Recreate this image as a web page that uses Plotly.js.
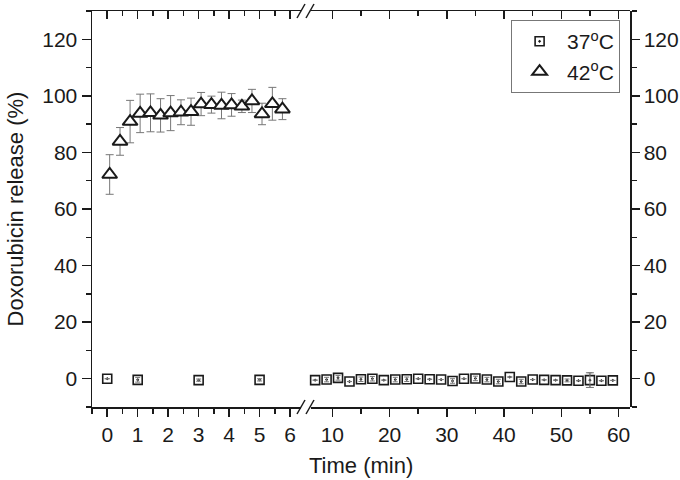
<!DOCTYPE html>
<html>
<head>
<meta charset="utf-8">
<script src="https://cdn.plot.ly/plotly-3.0.1.min.js"></script>
<style>html,body{margin:0;padding:0;background:#fff}#chart{width:680px;height:480px}</style>
</head>
<body>
<div id="chart"></div>
<script>
// ---- data ----
const seriesNames = ['37<sup>o</sup>C', '42<sup>o</sup>C'];

// 37 °C, first minutes (left axis segment)
const time37a = [0, 1, 3, 5];
const rel37a  = [0.0, -0.4, -0.5, -0.4];
const err37a  = [0, 0.8, 0.4, 0.4];

// 37 °C, later minutes (right axis segment)
const time37b = [7, 9, 11, 13, 15, 17, 19, 21, 23, 25, 27, 29, 31, 33, 35, 37, 39, 41, 43, 45, 47, 49, 51, 53, 55, 57, 59];
const rel37b  = [-0.5, -0.3, 0.3, -1.0, -0.2, 0.0, -0.5, -0.3, -0.2, 0.0, -0.2, -0.3, -0.8, 0.0, 0.1, -0.3, -1.0, 0.6, -1.0, -0.3, -0.4, -0.5, -0.6, -0.7, -0.5, -0.7, -0.6];
const err37b  = [0, 0.8, 0.8, 0, 0.8, 0.8, 0, 0.8, 0.8, 0, 0, 0, 0.8, 0, 0.8, 0.8, 0.8, 0, 0.8, 0, 0, 0, 0.5, 0, 2.6, 0, 0];

// 42 °C (left axis segment)
const time42 = [0.08, 0.42, 0.75, 1.08, 1.42, 1.75, 2.08, 2.42, 2.75, 3.08, 3.42, 3.75, 4.08, 4.42, 4.75, 5.08, 5.42, 5.75];
const rel42  = [72.2, 83.9, 90.9, 93.8, 94.0, 93.1, 93.9, 94.2, 94.4, 97.1, 96.9, 96.6, 96.8, 96.3, 98.2, 93.6, 97.2, 95.3];
const err42  = [7.0, 4.9, 7.5, 6.8, 6.7, 5.9, 6.2, 4.4, 4.8, 4.1, 3.0, 4.7, 4.0, 2.2, 4.1, 3.8, 5.8, 3.7];

const xTitle = 'Time (min)';
const yTitle = 'Doxorubicin release (%)';

// ---- styling ----
const FONT = 'Liberation Sans, Arial, sans-serif';
const INK = '#1a1a1a';
const errStyle = {type: 'data', visible: true, color: '#777', thickness: 1, width: 4};
const squareMarker = {symbol: 'square-dot', size: 9, color: '#fff', line: {color: INK, width: 1.6}};
const triMarker = {symbol: 'triangle-up', size: 13, color: '#fff', line: {color: INK, width: 2}};

const traces = [
  {x: time37a, y: rel37a, xaxis: 'x', yaxis: 'y', mode: 'markers', name: seriesNames[0],
   legendgroup: 'a', marker: squareMarker, error_y: Object.assign({array: err37a}, errStyle), cliponaxis: false},
  {x: time37b, y: rel37b, xaxis: 'x2', yaxis: 'y', mode: 'markers', name: seriesNames[0],
   legendgroup: 'a', showlegend: false, marker: squareMarker, error_y: Object.assign({array: err37b}, errStyle), cliponaxis: false},
  {x: time42, y: rel42, xaxis: 'x', yaxis: 'y', mode: 'markers', name: seriesNames[1],
   legendgroup: 'b', marker: triMarker, error_y: Object.assign({array: err42}, errStyle), cliponaxis: false},
  // error bars of the 37 °C squares, drawn over the symbols
  {x: time37a, y: rel37a, xaxis: 'x', yaxis: 'y', mode: 'markers', showlegend: false, hoverinfo: 'skip',
   marker: {size: 9, color: 'rgba(0,0,0,0)'}, error_y: Object.assign({array: err37a}, errStyle, {width: 2.5}), cliponaxis: false},
  {x: time37b, y: rel37b, xaxis: 'x2', yaxis: 'y', mode: 'markers', showlegend: false, hoverinfo: 'skip',
   marker: {size: 9, color: 'rgba(0,0,0,0)'}, error_y: Object.assign({array: err37b}, errStyle, {width: 2.5}), cliponaxis: false}
];

const baseX = {
  showline: true, linecolor: INK, linewidth: 1.5, showgrid: false, zeroline: false,
  tickcolor: INK, tickwidth: 1.5, tickfont: {family: FONT, size: 21, color: INK}
};
const L0 = 0, L1 = 0.3885, R0 = 0.4071, R1 = 1;
const leftRange = [-0.5, 6.36], rightRange = [6.28, 62];

const layout = {
  width: 680, height: 480,
  margin: {l: 92, r: 50, t: 11, b: 73},
  paper_bgcolor: '#fff', plot_bgcolor: '#fff',
  font: {family: FONT, color: INK},
  showlegend: true,
  legend: {x: 0.779, y: 0.977, xanchor: 'left', yanchor: 'top', bgcolor: '#fff',
           bordercolor: '#777', borderwidth: 1, font: {family: FONT, size: 21, color: INK},
           itemwidth: 45, tracegroupgap: 0},
  xaxis: Object.assign({}, baseX, {domain: [L0, L1], range: leftRange, anchor: 'y',
    tickmode: 'linear', tick0: 0, dtick: 1, ticks: 'outside', ticklen: 8,
    minor: {ticks: 'outside', ticklen: 5, dtick: 0.5, tick0: 0, tickcolor: INK, tickwidth: 1.5}}),
  xaxis2: Object.assign({}, baseX, {domain: [R0, R1], range: rightRange, anchor: 'y',
    tickmode: 'linear', tick0: 0, dtick: 10, ticks: 'outside', ticklen: 8,
    minor: {ticks: 'outside', ticklen: 5, dtick: 5, tick0: 0, tickcolor: INK, tickwidth: 1.5}}),
  xaxis3: Object.assign({}, baseX, {overlaying: 'x', side: 'top', range: leftRange, anchor: 'y',
    showticklabels: false, tickmode: 'linear', tick0: 0, dtick: 1, ticks: 'inside', ticklen: 8,
    minor: {ticks: 'inside', ticklen: 5, dtick: 0.5, tick0: 0, tickcolor: INK, tickwidth: 1.5}}),
  xaxis4: Object.assign({}, baseX, {overlaying: 'x2', side: 'top', range: rightRange, anchor: 'y',
    showticklabels: false, tickmode: 'linear', tick0: 0, dtick: 10, ticks: 'inside', ticklen: 8,
    minor: {ticks: 'inside', ticklen: 5, dtick: 5, tick0: 0, tickcolor: INK, tickwidth: 1.5}}),
  yaxis: Object.assign({}, baseX, {domain: [0, 1], range: [-10, 130], anchor: 'x', side: 'left',
    tickmode: 'linear', tick0: 0, dtick: 20, ticks: 'outside', ticklen: 9,
    minor: {ticks: 'outside', ticklen: 5, dtick: 10, tick0: 0, tickcolor: INK, tickwidth: 1.5},
    title: {text: yTitle, font: {family: FONT, size: 22, color: INK}, standoff: 12}}),
  yaxis2: Object.assign({}, baseX, {overlaying: 'y', range: [-10, 130], anchor: 'free', position: 1, side: 'right',
    tickmode: 'linear', tick0: 0, dtick: 20, ticks: 'outside', ticklen: 8,
    minor: {ticks: 'outside', ticklen: 5, dtick: 10, tick0: 0, tickcolor: INK, tickwidth: 1.5}}),
  annotations: [
    {text: xTitle, xref: 'paper', yref: 'paper', x: 0.5, y: -0.148, xanchor: 'center', yanchor: 'middle',
     showarrow: false, font: {family: FONT, size: 22, color: INK}}
  ],
  shapes: []
};

// axis-break marks "//" on bottom and top axes
const px = v => (v - 92) / 538;
[[297, 305], [306, 314]].forEach(([a, b]) => {
  [0, 1].forEach(yp => {
    layout.shapes.push({type: 'line', xref: 'paper', yref: 'paper',
      x0: px(a), x1: px(b), y0: yp - 7 / 396, y1: yp + 7 / 396,
      line: {color: INK, width: 1.5}});
  });
});

// empty traces so that the top / right axes are drawn
traces.push({x: [], y: [], xaxis: 'x3', yaxis: 'y', showlegend: false, hoverinfo: 'skip'});
traces.push({x: [], y: [], xaxis: 'x4', yaxis: 'y2', showlegend: false, hoverinfo: 'skip'});

Plotly.newPlot('chart', traces, layout, {displayModeBar: false, staticPlot: true});
</script>
</body>
</html>
